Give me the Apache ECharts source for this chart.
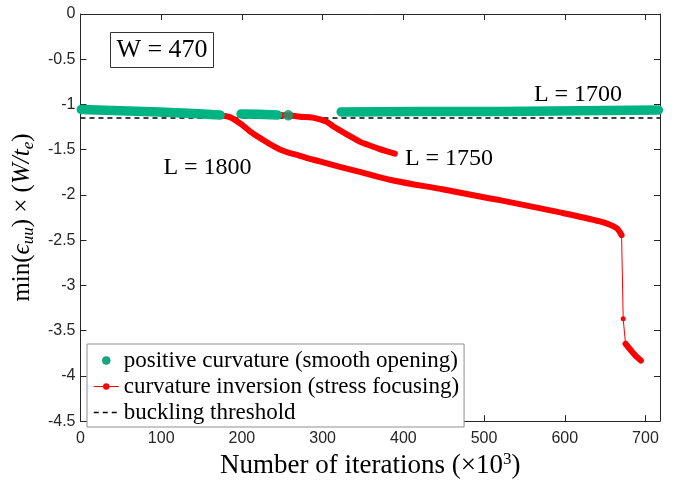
<!DOCTYPE html>
<html>
<head>
<meta charset="utf-8">
<script src="https://cdn.jsdelivr.net/npm/echarts@6/dist/echarts.min.js"></script>
<style>html,body{margin:0;padding:0;background:#fff}#c{width:680px;height:485px}</style>
</head>
<body>
<div id="c"></div>
<script>
// ---- data ----
const xTicks = [0, 100, 200, 300, 400, 500, 600, 700];
const yTicks = [0, -0.5, -1, -1.5, -2, -2.5, -3, -3.5, -4, -4.5];

// positive curvature (smooth opening) segments
const green1X = [1, 40, 98, 140, 173];
const green1Y = [-1.056, -1.068, -1.082, -1.100, -1.116];
const green2X = [199, 220, 244];
const green2Y = [-1.105, -1.108, -1.116];
const green3X = [257.5];
const green3Y = [-1.12];
const green4X = [323, 420, 519, 620, 716];
const green4Y = [-1.082, -1.079, -1.077, -1.070, -1.062];

// curvature inversion (stress focusing), L = 1800
const red1800X = [172.9, 185, 197.6, 210, 222.2, 247, 271.8, 296.5, 321.3, 346, 387.4, 450, 507.7, 519.6, 589.8, 643.5, 664, 670.4];
const red1800Y = [-1.123, -1.14, -1.207, -1.297, -1.37, -1.497, -1.568, -1.63, -1.69, -1.745, -1.84, -1.94, -2.04, -2.058, -2.185, -2.293, -2.366, -2.445];
const redJumpX = [670.4, 672.4, 675.3];
const redJumpY = [-2.445, -3.37, -3.645];
const redTailX = [675.3, 682.6, 688, 694.3];
const redTailY = [-3.645, -3.725, -3.78, -3.83];
// L = 1750
const red1750X = [244, 257.5, 272, 288, 305, 313, 330, 346, 354.4, 370, 389.5];
const red1750Y = [-1.116, -1.12, -1.135, -1.145, -1.19, -1.24, -1.33, -1.41, -1.44, -1.49, -1.543];

// buckling threshold
const thrX = [0, 718];
const thrY = [-1.15, -1.15];

const xMin = 0, xMax = 718, yMin = -4.5, yMax = 0;

const NAME_G = 'positive curvature (smooth opening)';
const NAME_R = 'curvature inversion (stress focusing)';
const NAME_T = 'buckling threshold';

function zip(xs, ys) { return xs.map((x, i) => [x, ys[i]]); }

const GREEN = '#00b383';
const RED = '#ff0000';
const SERIF = '"Liberation Serif", "Times New Roman", serif';
const SANS = '"Liberation Sans", Arial, Helvetica, sans-serif';

const chart = echarts.init(document.getElementById('c'), null, {renderer: 'canvas'});

const thick = {width: 6, color: RED, cap: 'round', join: 'round'};
const greenLine = {width: 9.5, color: GREEN, cap: 'round', join: 'round'};

const option = {
  backgroundColor: '#fff',
  animation: false,
  grid: {left: 80, right: 20, top: 14, bottom: 57, containLabel: false},
  xAxis: [{
    type: 'value', min: xMin, max: xMax, interval: 100,
    position: 'bottom',
    axisLine: {onZero: false, lineStyle: {color: '#262626', width: 1}},
    axisTick: {inside: true, length: 6, lineStyle: {color: '#262626'}},
    splitLine: {show: false},
    axisLabel: {color: '#262626', fontFamily: SANS, fontSize: 16, margin: 9, showMaxLabel: false,
      formatter: v => xTicks.includes(v) ? String(v) : ''},
    name: '{n|Number of iterations (×10}{sup|3}{n|)}',
    nameLocation: 'middle', nameGap: 26,
    nameTextStyle: {
      rich: {
        n: {fontFamily: SERIF, fontSize: 27, color: '#000', lineHeight: 30},
        sup: {fontFamily: SERIF, fontSize: 17, color: '#000', lineHeight: 30, padding: [0, 0, 12, 0]}
      }
    }
  }, {
    type: 'value', min: xMin, max: xMax, interval: 100,
    position: 'top',
    axisLine: {onZero: false, lineStyle: {color: '#262626', width: 1}},
    axisTick: {inside: true, length: 6, lineStyle: {color: '#262626'}},
    axisLabel: {show: false}, splitLine: {show: false}
  }],
  yAxis: [{
    type: 'value', min: yMin, max: yMax, interval: 0.5,
    position: 'left',
    axisLine: {onZero: false, lineStyle: {color: '#262626', width: 1}},
    axisTick: {inside: true, length: 6, lineStyle: {color: '#262626'}},
    splitLine: {show: false},
    axisLabel: {color: '#262626', fontFamily: SANS, fontSize: 16, margin: 5,
      formatter: v => yTicks.includes(v) ? String(v) : ''},
    name: '{n|min(}{i|ϵ}{s|uu}{n|) × (}{i|W/t}{s|e}{n|)}',
    nameLocation: 'middle', nameGap: 31, nameRotate: 90,
    nameTextStyle: {
      rich: {
        n: {fontFamily: SERIF, fontSize: 25, color: '#000', lineHeight: 28},
        i: {fontFamily: SERIF, fontSize: 25, fontStyle: 'italic', color: '#000', lineHeight: 28},
        s: {fontFamily: SERIF, fontSize: 17, fontStyle: 'italic', color: '#000', lineHeight: 28, padding: [12, 0, 0, 0]}
      }
    }
  }, {
    type: 'value', min: yMin, max: yMax, interval: 0.5,
    position: 'right',
    axisLine: {onZero: false, lineStyle: {color: '#262626', width: 1}},
    axisTick: {inside: true, length: 6, lineStyle: {color: '#262626'}},
    axisLabel: {show: false}, splitLine: {show: false}
  }],
  legend: {
    orient: 'vertical',
    left: 87, top: 344,
    padding: [5, 5, 3, 6],
    itemGap: 3,
    itemWidth: 25, itemHeight: 8,
    backgroundColor: '#fff',
    borderColor: '#8f8f8f', borderWidth: 1, borderRadius: 0,
    selectedMode: false,
    textStyle: {fontFamily: SERIF, fontSize: 23, color: '#000', lineHeight: 22},
    data: [
      {name: NAME_G, icon: 'circle', itemStyle: {color: '#17a77f', borderColor: '#0f8f6a', borderWidth: 0.5}},
      {name: NAME_R, lineStyle: {width: 1, color: RED}},
      {name: NAME_T, itemStyle: {opacity: 0, color: 'rgba(0,0,0,0)', borderWidth: 0}, lineStyle: {width: 1.5, color: '#000', type: [5, 4]}}
    ]
  },
  series: [
    {name: NAME_R, type: 'line', data: zip(redJumpX, redJumpY), symbol: 'circle', symbolSize: 5,
      itemStyle: {color: RED}, lineStyle: {width: 1, color: RED}, z: 3},
    {name: NAME_R, type: 'line', data: zip(red1800X, red1800Y), symbol: 'none', lineStyle: thick, smooth: 0.3, z: 3},
    {name: NAME_R, type: 'line', data: zip(redTailX, redTailY), symbol: 'none', lineStyle: thick, z: 3},
    {name: NAME_R, type: 'line', data: zip(red1750X, red1750Y), symbol: 'none', lineStyle: thick, smooth: 0.3, z: 3},
    {name: NAME_T, type: 'line', data: zip(thrX, thrY), symbol: 'none',
      itemStyle: {color: '#000'},
      lineStyle: {width: 1.5, color: '#000', type: [5, 4]}, z: 2},
    {name: NAME_G, type: 'line', data: zip(green1X, green1Y), symbol: 'none', lineStyle: greenLine, z: 4},
    {name: NAME_G, type: 'line', data: zip(green2X, green2Y), symbol: 'none', lineStyle: greenLine, z: 4},
    {name: NAME_G, type: 'scatter', data: zip(green3X, green3Y), symbol: 'circle', symbolSize: 9.5,
      itemStyle: {color: '#0fa27b', borderColor: '#0c8a68', borderWidth: 1}, z: 4},
    {name: NAME_G, type: 'line', data: zip(green4X, green4Y), symbol: 'none', lineStyle: greenLine, z: 4}
  ],
  graphic: [
    {type: 'rect', shape: {x: 110.5, y: 32.5, width: 103, height: 35},
      style: {fill: '#fff', stroke: '#333', lineWidth: 1}, z: 100},
    {type: 'text', x: 162, y: 50, z: 101,
      style: {text: 'W = 470', font: '26px ' + SERIF, fill: '#000', textAlign: 'center', textVerticalAlign: 'middle'}},
    {type: 'text', x: 207.5, y: 168, z: 101,
      style: {text: 'L = 1800', font: '24px ' + SERIF, fill: '#000', textAlign: 'center', textVerticalAlign: 'middle'}},
    {type: 'text', x: 449, y: 158.5, z: 101,
      style: {text: 'L = 1750', font: '24px ' + SERIF, fill: '#000', textAlign: 'center', textVerticalAlign: 'middle'}},
    {type: 'text', x: 578, y: 94.5, z: 101,
      style: {text: 'L = 1700', font: '24px ' + SERIF, fill: '#000', textAlign: 'center', textVerticalAlign: 'middle'}}
  ]
};
chart.setOption(option);
</script>
</body>
</html>
